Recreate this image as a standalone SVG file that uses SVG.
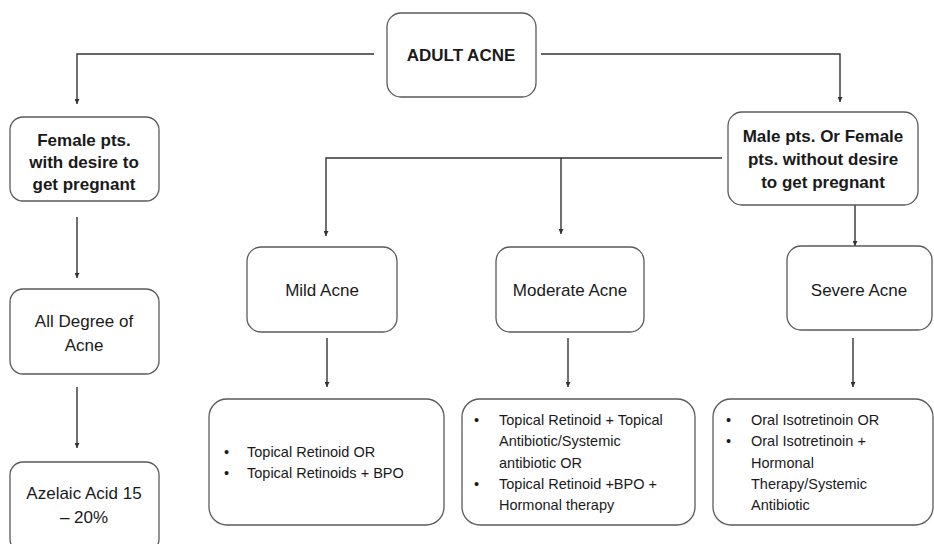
<svg xmlns="http://www.w3.org/2000/svg" width="934" height="544" viewBox="0 0 934 544">
<defs>
<style>
.box{fill:#fff;stroke:#5a5a5a;stroke-width:1.3}
.ln{fill:none;stroke:#333;stroke-width:1.4}
.b{font-family:"Liberation Sans",Arial,sans-serif;font-weight:bold;font-size:17px;fill:#1a1a1a;text-anchor:middle}
.m{font-family:"Liberation Sans",Arial,sans-serif;font-size:17px;fill:#1a1a1a;text-anchor:middle}
.t{font-family:"Liberation Sans",Arial,sans-serif;font-size:14.5px;fill:#1a1a1a}
</style>
<marker id="ah" viewBox="0 0 10 10" refX="10" refY="5" markerWidth="5" markerHeight="5" orient="auto" markerUnits="userSpaceOnUse">
<path d="M0,0 L10,5 L0,10 z" fill="#333"/>
</marker>
</defs>
<rect width="934" height="544" fill="#fff"/>
<g id="connectors">
<path class="ln" d="M374,54 H77 V104" marker-end="url(#ah)"/>
<path class="ln" d="M541,54 H840 V102" marker-end="url(#ah)"/>
<path class="ln" d="M77,217 V278" marker-end="url(#ah)"/>
<path class="ln" d="M77,387 V448" marker-end="url(#ah)"/>
<path class="ln" d="M722,158 H326 V236" marker-end="url(#ah)"/>
<path class="ln" d="M561,158 V234" marker-end="url(#ah)"/>
<path class="ln" d="M855,205 V246" marker-end="url(#ah)"/>
<path class="ln" d="M327,338 V387" marker-end="url(#ah)"/>
<path class="ln" d="M568,338 V387" marker-end="url(#ah)"/>
<path class="ln" d="M853,338 V387" marker-end="url(#ah)"/>
</g>
<g id="adult-acne">
<rect class="box" x="387" y="13" width="149" height="84" rx="14"/>
<text class="b" x="461" y="61">ADULT ACNE</text>
</g>
<g id="female">
<rect class="box" x="10" y="117" width="149" height="84" rx="13"/>
<text class="b" x="84" y="146">Female pts.</text>
<text class="b" x="84" y="168">with desire to</text>
<text class="b" x="84" y="190">get pregnant</text>
</g>
<g id="male">
<rect class="box" x="728" y="112" width="190" height="93" rx="14"/>
<text class="b" x="823" y="142">Male pts. Or Female</text>
<text class="b" x="823" y="165">pts. without desire</text>
<text class="b" x="823" y="188">to get pregnant</text>
</g>
<g id="all-degree">
<rect class="box" x="10" y="289" width="149" height="85" rx="13"/>
<text class="m" x="84" y="327">All Degree of</text>
<text class="m" x="84" y="351">Acne</text>
</g>
<g id="azelaic">
<rect class="box" x="10" y="462" width="149" height="90" rx="13"/>
<text class="m" x="84" y="499">Azelaic Acid 15</text>
<text class="m" x="84" y="523">– 20%</text>
</g>
<g id="mild">
<rect class="box" x="247" y="247" width="150" height="85" rx="14"/>
<text class="m" x="322" y="296">Mild Acne</text>
</g>
<g id="moderate">
<rect class="box" x="496" y="247" width="148" height="85" rx="14"/>
<text class="m" x="570" y="296">Moderate Acne</text>
</g>
<g id="severe">
<rect class="box" x="787" y="246" width="145" height="84" rx="14"/>
<text class="m" x="859" y="296">Severe Acne</text>
</g>
<g id="mild-tx">
<rect class="box" x="209" y="399" width="235" height="126" rx="18"/>
<text class="t" x="224" y="457">•</text>
<text class="t" x="247" y="457">Topical Retinoid OR</text>
<text class="t" x="224" y="478">•</text>
<text class="t" x="247" y="478">Topical Retinoids + BPO</text>
</g>
<g id="moderate-tx">
<rect class="box" x="462" y="399" width="233" height="126" rx="18"/>
<text class="t" x="474" y="425">•</text>
<text class="t" x="499" y="425">Topical Retinoid + Topical</text>
<text class="t" x="499" y="446">Antibiotic/Systemic</text>
<text class="t" x="499" y="468">antibiotic OR</text>
<text class="t" x="474" y="489">•</text>
<text class="t" x="499" y="489">Topical Retinoid +BPO +</text>
<text class="t" x="499" y="510">Hormonal therapy</text>
</g>
<g id="severe-tx">
<rect class="box" x="713" y="399" width="220" height="126" rx="18"/>
<text class="t" x="726" y="425">•</text>
<text class="t" x="751" y="425">Oral Isotretinoin OR</text>
<text class="t" x="726" y="446">•</text>
<text class="t" x="751" y="446">Oral Isotretinoin +</text>
<text class="t" x="751" y="468">Hormonal</text>
<text class="t" x="751" y="489">Therapy/Systemic</text>
<text class="t" x="751" y="510">Antibiotic</text>
</g>
</svg>
